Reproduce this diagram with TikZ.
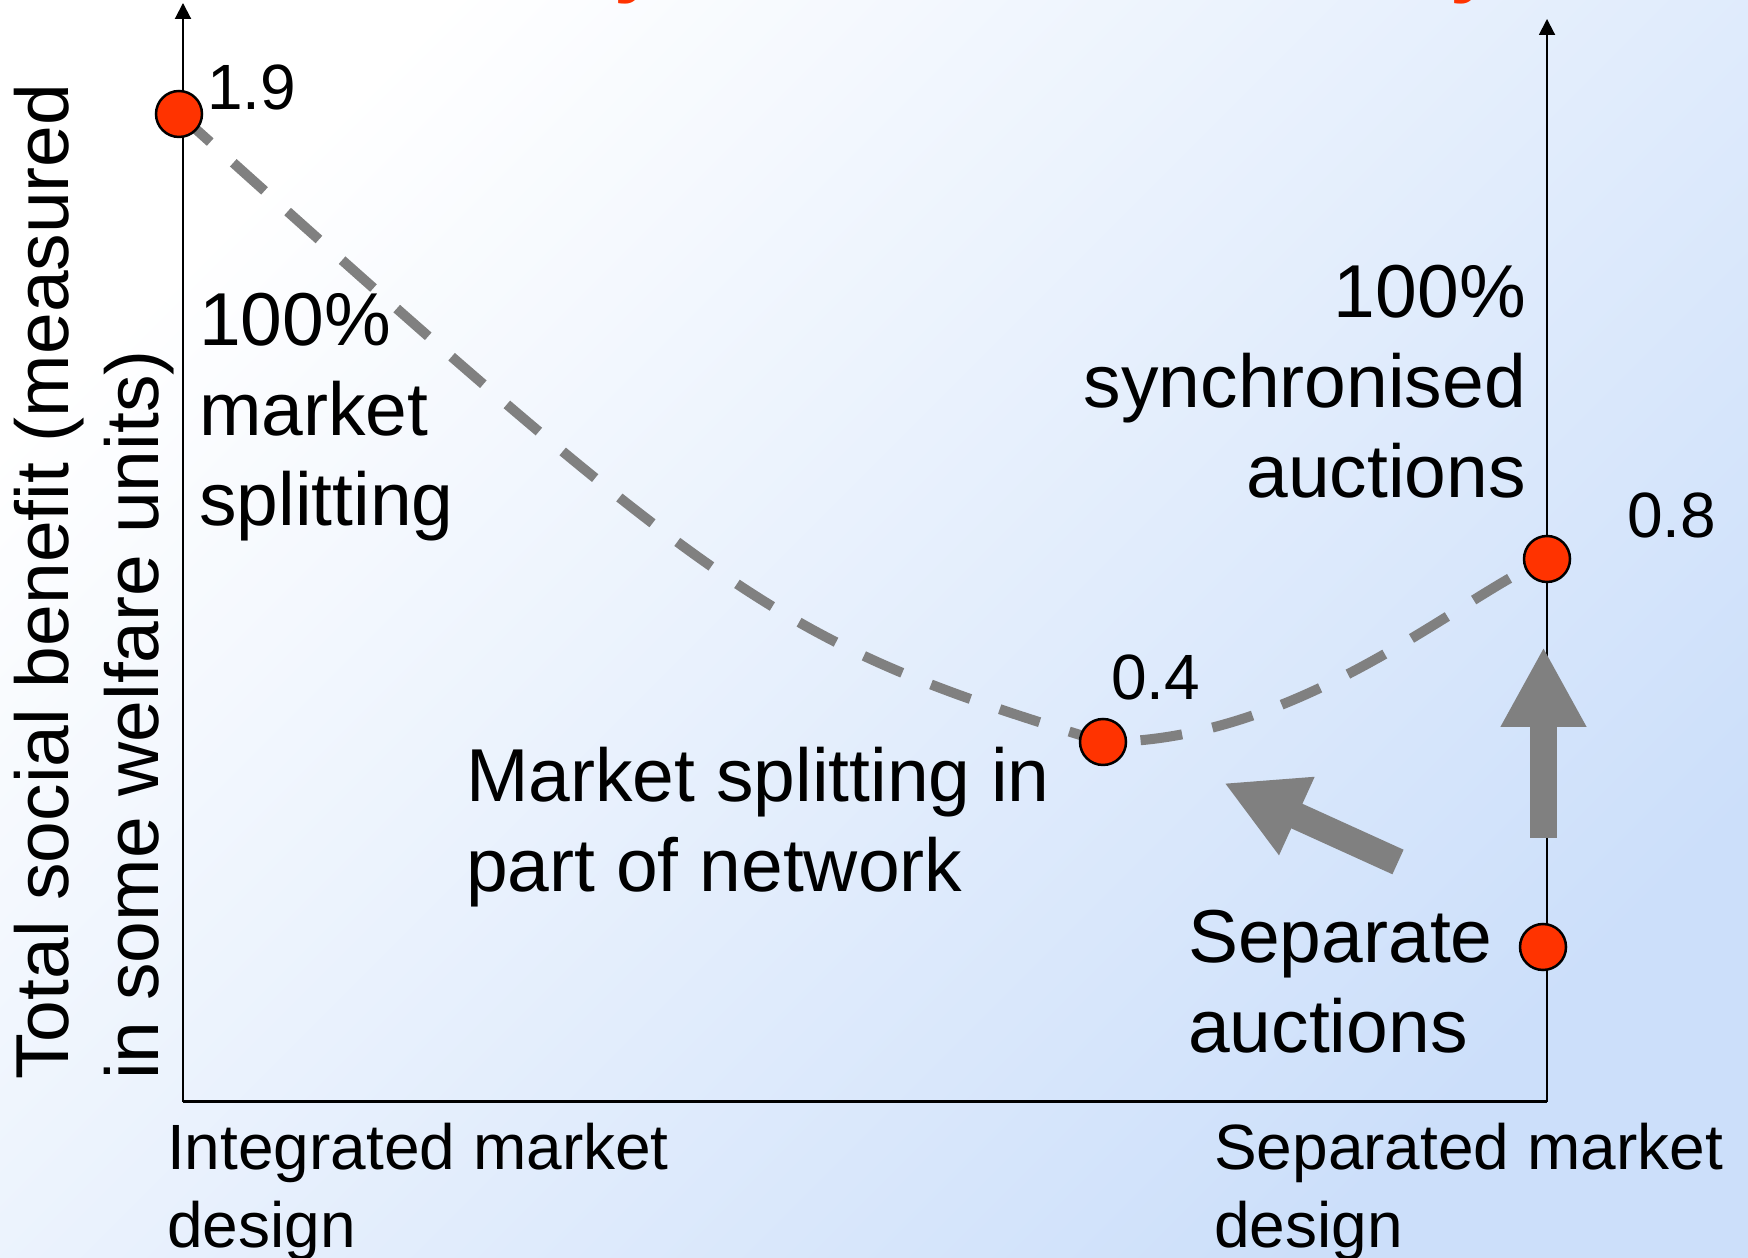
\documentclass[tikz,border=0pt]{standalone}
\usepackage{fontspec}
\setmainfont{Liberation Sans}[Ligatures=NoCommon]
\usetikzlibrary{arrows.meta}
\definecolor{dotred}{RGB}{255,51,0}
\definecolor{curvegray}{RGB}{128,128,128}
\definecolor{bgblue}{RGB}{204,223,250}
\newcommand\mlines[2][l]{\begin{tabular}[t]{@{}#1@{}}#2\end{tabular}}
\begin{document}
\begin{tikzpicture}[x=1pt,y=1pt,
  axisline/.style={draw=black,line width=2pt},
  baseaxis/.style={draw=black,line width=3pt},
  axisarrow/.style={axisline,-{Triangle[length=16pt,width=16pt]}},
  curve/.style={draw=curvegray,line width=10pt,dash pattern=on 42pt off 31pt},
  blockarrow/.style={draw=curvegray,line width=27pt,-{Triangle[length=80pt,width=80pt]}},
  dot/.style={circle,fill=dotred,draw=black,line width=2.5pt,minimum size=46pt,inner sep=0pt},
  bigtext/.style={inner sep=0pt,font=\fontsize{75}{90}\selectfont},
  numtext/.style={inner sep=0pt,anchor=base west,font=\fontsize{64}{77}\selectfont},
  axistext/.style={inner sep=0pt,anchor=base west,font=\fontsize{64}{78}\selectfont},
  titlefrag/.style={inner sep=0pt,anchor=base west,text=dotred,font=\fontsize{80}{96}\selectfont\bfseries}]
\useasboundingbox (0,0) rectangle (1748,1258);
\shade[top color=white,bottom color=bgblue,shading angle=45] (0,0) rectangle (1748,1258);
% clipped title fragments
\node[titlefrag] (t1) at (614,1270) {y};
\node[titlefrag] (t2) at (1450,1270) {y};
% axes
\coordinate (O) at (183,156);
\coordinate (Ytop) at (183,1255);
\coordinate (R) at (1547,156);
\coordinate (Rtop) at (1547,1239);
\draw[baseaxis] (O) -- (R);
\draw[axisarrow] (O) -- (Ytop);
\draw[axisarrow] (R) -- (Rtop);
% curve
\coordinate (pA) at (179,1144);
\coordinate (pB) at (1103,516);
\coordinate (pC) at (1547,699);
\coordinate (pD) at (1543,311);
\draw[curve] (pA) .. controls (730,648) and (780,615) .. (pB)
                  .. controls (1300,516) and (1460,662) .. (pC);
% block arrows
\coordinate (vTail) at (1543.5,420);
\coordinate (vTip) at (1543.5,611);
\coordinate (dTail) at (1398,396);
\coordinate (dTip) at (1224,475);
\draw[blockarrow] (vTail) -- (vTip);
\draw[blockarrow] (dTail) -- (dTip);
% dots
\node[dot] (A) at (pA) {};
\node[dot] (B) at (pB) {};
\node[dot] (C) at (pC) {};
\node[dot] (D) at (pD) {};
% texts
\node[bigtext,anchor=base west] (splitL) at (199,912) {\mlines{100\%\\market\\splitting}};
\node[bigtext,anchor=base east] (syncR) at (1526,940) {\mlines[r]{100\%\\synchronised\\auctions}};
\node[bigtext,anchor=base west] (partial) at (466,456) {\mlines{Market splitting in\\part of network}};
\node[bigtext,anchor=base west] (sep) at (1188,295) {\mlines{Separate\\auctions}};
\node[bigtext,anchor=base west,rotate=90] (ylab) at (68,178) {\mlines{Total social benefit (measured\\in some welfare units)}};
\node[axistext] (intL) at (167,88) {\mlines{Integrated market\\design}};
\node[axistext] (sepR) at (1214,88) {\mlines{Separated market\\design}};
\node[numtext] (n19) at (207,1148) {1.9};
\node[numtext] (n04) at (1111,558) {0.4};
\node[numtext] (n08) at (1627,720) {0.8};
\end{tikzpicture}
\end{document}
